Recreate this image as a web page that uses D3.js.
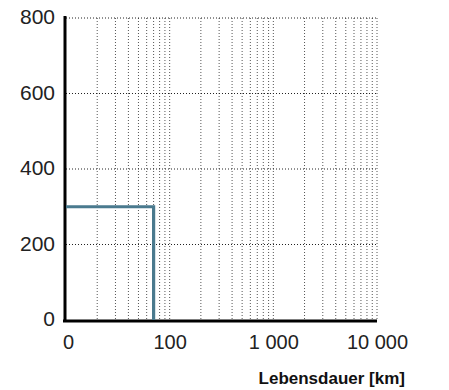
<!DOCTYPE html>
<html><head><meta charset="utf-8">
<script src="https://cdn.jsdelivr.net/npm/d3@7"></script>
<style>body{margin:0;background:#fff;}svg{display:block;}</style>
</head><body>
<svg id="c" width="449" height="390"></svg>
<script>
const xTickValues = [10, 100, 1000, 10000];
const xTickLabels = ["0", "100", "1 000", "10 000"];
const yTickValues = [0, 200, 400, 600, 800];
const xGridValues = [20,30,40,50,60,70,80,90,100,200,300,400,500,600,700,800,900,1000,2000,3000,4000,5000,6000,7000,8000,9000,10000];
const lineX = [10, 70, 70];
const lineY = [300, 300, 0];
const xTitle = "Lebensdauer [km]";

const svg = d3.select("#c");
const x = d3.scaleLog().domain([10, 10000]).range([66, 377]);
const y = d3.scaleLinear().domain([0, 800]).range([320, 18]);
const font = "'Liberation Sans', Arial, sans-serif";

// vertical grid
svg.append("g").selectAll("line").data(xGridValues).join("line")
  .attr("x1", d => x(d)).attr("x2", d => x(d))
  .attr("y1", y(800)).attr("y2", y(0))
  .attr("stroke", "#555").attr("stroke-width", 1).attr("stroke-dasharray", "1,2");
// horizontal grid
svg.append("g").selectAll("line").data(yTickValues.slice(1)).join("line")
  .attr("x1", x(10)).attr("x2", x(10000))
  .attr("y1", d => y(d)).attr("y2", d => y(d))
  .attr("stroke", "#222").attr("stroke-width", 1).attr("stroke-dasharray", "1,2");

// axes using d3 axis generators
const yAxis = svg.append("g").attr("transform", `translate(${x(10)-1},0)`)
  .call(d3.axisLeft(y).tickValues(yTickValues).tickSize(0).tickPadding(10));
yAxis.select(".domain").attr("stroke", "#000").attr("stroke-width", 3).attr("d", `M0,${y(800)-2}V${y(0)+2}`);
yAxis.selectAll("text").attr("font-family", font).attr("font-size", 21).attr("fill", "#222").attr("dy", "0.28em");

const xAxis = svg.append("g").attr("transform", `translate(0,${y(0)+1})`)
  .call(d3.axisBottom(x).tickValues(xTickValues).tickFormat((d,i) => xTickLabels[i]).tickSize(0).tickPadding(14));
xAxis.select(".domain").attr("stroke", "#000").attr("stroke-width", 3).attr("d", `M${x(10)-3},0H${x(10000)}`);
xAxis.selectAll("text").attr("font-family", font).attr("font-size", 20).attr("fill", "#222");
xAxis.selectAll("text").filter((d,i) => i === 0).attr("dx", 2);

// data line
const line = d3.line().x(d => x(d[0])).y(d => y(d[1]));
svg.append("path").datum(lineX.map((v,i) => [v, lineY[i]]))
  .attr("d", line).attr("fill", "none").attr("stroke", "#4a7a8e").attr("stroke-width", 3.2);

svg.append("text").attr("x", 405).attr("y", 384).attr("text-anchor", "end")
  .attr("font-family", font).attr("font-weight", "bold").attr("font-size", 17).attr("fill", "#111")
  .text(xTitle);
</script>
</body></html>
